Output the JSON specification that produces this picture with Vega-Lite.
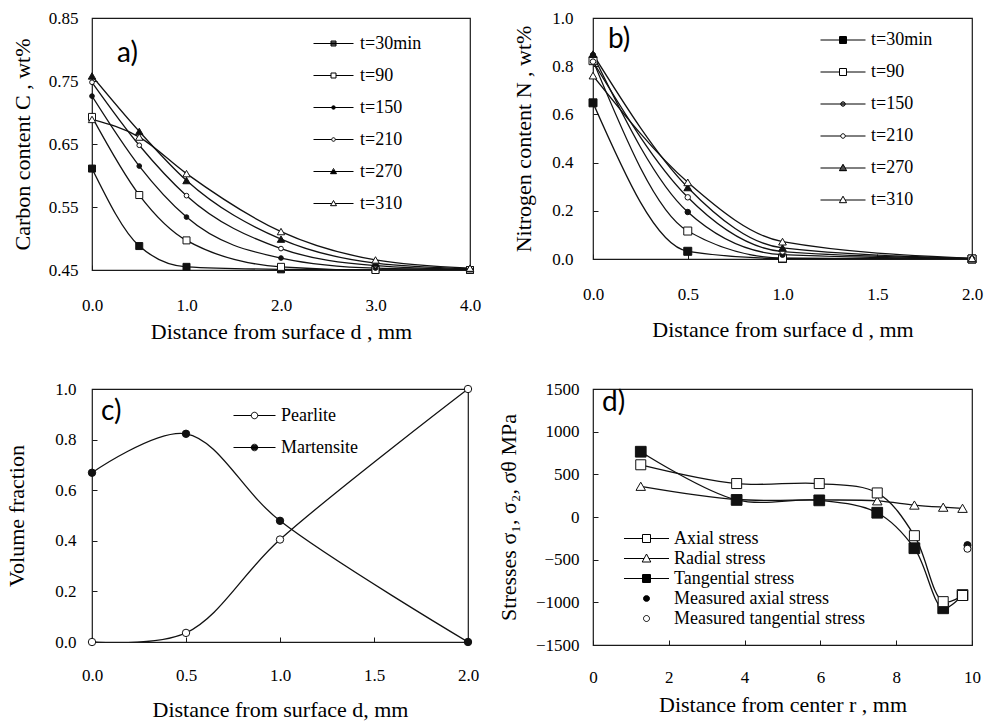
{
  "$schema": "https://vega.github.io/schema/vega-lite/v6.json",
  "background": "white",
  "padding": {"left": 5, "top": 8, "right": 0, "bottom": 0},
  "columns": 2,
  "spacing": {"row": 36, "column": 14},
  "resolve": {"scale": {"shape": "independent"}, "legend": {"shape": "independent"}},
  "config": {
    "font": "Times New Roman, Liberation Serif, serif",
    "view": {"stroke": "#1a1a1a", "strokeWidth": 1.2},
    "axis": {"grid": false, "domain": false, "labelFont": "Times New Roman, Liberation Serif, serif", "labelFontSize": 17, "labelColor": "black", "titleFont": "Times New Roman, Liberation Serif, serif", "titleFontSize": 22, "titleFontWeight": "normal", "titleColor": "black", "tickColor": "#1a1a1a", "tickSize": -5, "labelFlush": false, "labelOverlap": false},
    "legend": {"labelFont": "Times New Roman, Liberation Serif, serif", "labelFontSize": 18, "labelColor": "black", "labelLimit": 400, "padding": 0, "offset": 0, "orient": "none", "symbolStrokeWidth": 1, "symbolStrokeColor": "black", "symbolOpacity": 1},
    "title": {"font": "Lato", "fontSize": 28, "fontWeight": "normal", "color": "black", "anchor": "start", "frame": "group", "offset": 0, "baseline": "alphabetic"}
  },
  "datasets": {
    "carbon": [
      {"d": 0, "C": 0.611, "t": "t=30min"}, {"d": 0.5, "C": 0.488, "t": "t=30min"}, {"d": 1, "C": 0.455, "t": "t=30min"}, {"d": 2, "C": 0.451, "t": "t=30min"}, {"d": 3, "C": 0.45, "t": "t=30min"}, {"d": 4, "C": 0.45, "t": "t=30min"},
      {"d": 0, "C": 0.693, "t": "t=90"}, {"d": 0.5, "C": 0.569, "t": "t=90"}, {"d": 1, "C": 0.497, "t": "t=90"}, {"d": 2, "C": 0.455, "t": "t=90"}, {"d": 3, "C": 0.45, "t": "t=90"}, {"d": 4, "C": 0.45, "t": "t=90"},
      {"d": 0, "C": 0.726, "t": "t=150"}, {"d": 0.5, "C": 0.615, "t": "t=150"}, {"d": 1, "C": 0.534, "t": "t=150"}, {"d": 2, "C": 0.469, "t": "t=150"}, {"d": 3, "C": 0.453, "t": "t=150"}, {"d": 4, "C": 0.451, "t": "t=150"},
      {"d": 0, "C": 0.748, "t": "t=210"}, {"d": 0.5, "C": 0.648, "t": "t=210"}, {"d": 1, "C": 0.568, "t": "t=210"}, {"d": 2, "C": 0.484, "t": "t=210"}, {"d": 3, "C": 0.457, "t": "t=210"}, {"d": 4, "C": 0.451, "t": "t=210"},
      {"d": 0, "C": 0.758, "t": "t=270"}, {"d": 0.5, "C": 0.670, "t": "t=270"}, {"d": 1, "C": 0.592, "t": "t=270"}, {"d": 2, "C": 0.499, "t": "t=270"}, {"d": 3, "C": 0.461, "t": "t=270"}, {"d": 4, "C": 0.452, "t": "t=270"},
      {"d": 0, "C": 0.689, "t": "t=310"}, {"d": 0.5, "C": 0.661, "t": "t=310"}, {"d": 1, "C": 0.603, "t": "t=310"}, {"d": 2, "C": 0.511, "t": "t=310"}, {"d": 3, "C": 0.466, "t": "t=310"}, {"d": 4, "C": 0.453, "t": "t=310"}
    ],
    "nitrogen": [
      {"d": 0, "N": 0.648, "t": "t=30min"}, {"d": 0.5, "N": 0.032, "t": "t=30min"}, {"d": 1, "N": 0.002, "t": "t=30min"}, {"d": 2, "N": 0.0, "t": "t=30min"},
      {"d": 0, "N": 0.823, "t": "t=90"}, {"d": 0.5, "N": 0.116, "t": "t=90"}, {"d": 1, "N": 0.004, "t": "t=90"}, {"d": 2, "N": 0.0, "t": "t=90"},
      {"d": 0, "N": 0.846, "t": "t=150"}, {"d": 0.5, "N": 0.195, "t": "t=150"}, {"d": 1, "N": 0.018, "t": "t=150"}, {"d": 2, "N": 0.0, "t": "t=150"},
      {"d": 0, "N": 0.819, "t": "t=210"}, {"d": 0.5, "N": 0.256, "t": "t=210"}, {"d": 1, "N": 0.031, "t": "t=210"}, {"d": 2, "N": 0.001, "t": "t=210"},
      {"d": 0, "N": 0.850, "t": "t=270"}, {"d": 0.5, "N": 0.297, "t": "t=270"}, {"d": 1, "N": 0.046, "t": "t=270"}, {"d": 2, "N": 0.002, "t": "t=270"},
      {"d": 0, "N": 0.761, "t": "t=310"}, {"d": 0.5, "N": 0.318, "t": "t=310"}, {"d": 1, "N": 0.072, "t": "t=310"}, {"d": 2, "N": 0.003, "t": "t=310"}
    ],
    "phase": [
      {"d": 0, "f": 0.0, "phase": "Pearlite"}, {"d": 0.5, "f": 0.036, "phase": "Pearlite"}, {"d": 1, "f": 0.405, "phase": "Pearlite"}, {"d": 2, "f": 1.0, "phase": "Pearlite"},
      {"d": 0, "f": 0.669, "phase": "Martensite"}, {"d": 0.5, "f": 0.823, "phase": "Martensite"}, {"d": 1, "f": 0.479, "phase": "Martensite"}, {"d": 2, "f": 0.0, "phase": "Martensite"}
    ],
    "stress": [
      {"r": 1.26, "s": 612, "type": "Axial stress"}, {"r": 3.79, "s": 392, "type": "Axial stress"}, {"r": 5.97, "s": 392, "type": "Axial stress"}, {"r": 7.5, "s": 282, "type": "Axial stress"}, {"r": 8.48, "s": -219, "type": "Axial stress"}, {"r": 9.24, "s": -992, "type": "Axial stress"}, {"r": 9.75, "s": -920, "type": "Axial stress"},
      {"r": 1.26, "s": 360, "type": "Radial stress"}, {"r": 3.79, "s": 205, "type": "Radial stress"}, {"r": 5.97, "s": 200, "type": "Radial stress"}, {"r": 7.5, "s": 190, "type": "Radial stress"}, {"r": 8.48, "s": 140, "type": "Radial stress"}, {"r": 9.24, "s": 115, "type": "Radial stress"}, {"r": 9.75, "s": 102, "type": "Radial stress"},
      {"r": 1.26, "s": 765, "type": "Tangential stress"}, {"r": 3.79, "s": 200, "type": "Tangential stress"}, {"r": 5.97, "s": 195, "type": "Tangential stress"}, {"r": 7.5, "s": 50, "type": "Tangential stress"}, {"r": 8.48, "s": -366, "type": "Tangential stress"}, {"r": 9.24, "s": -1070, "type": "Tangential stress"}, {"r": 9.75, "s": -915, "type": "Tangential stress"},
      {"r": 9.88, "s": -330, "type": "Measured axial stress"},
      {"r": 9.88, "s": -372, "type": "Measured tangential stress"}
    ]
  },
  "concat": [
    {
      "width": 378, "height": 252,
      "title": {"text": "a)", "dx": 25, "dy": 63},
      "data": {"name": "carbon"},
      "encoding": {
        "x": {"field": "d", "type": "quantitative", "scale": {"domain": [0, 4], "nice": false, "zero": false}, "axis": {"values": [0, 1, 2, 3, 4], "format": ".1f", "title": "Distance from surface d , mm", "labelPadding": 32, "titlePadding": 8}},
        "y": {"field": "C", "type": "quantitative", "scale": {"domain": [0.45, 0.85], "nice": false, "zero": false}, "axis": {"values": [0.45, 0.55, 0.65, 0.75, 0.85], "format": ".2f", "title": "Carbon content C , wt%", "labelPadding": 19, "titlePadding": 14}}
      },
      "layer": [
        {"mark": {"type": "line", "interpolate": "monotone", "color": "#111", "strokeWidth": 1.3, "clip": true}, "encoding": {"detail": {"field": "t"}}},
        {"transform": [{"filter": {"field": "t", "equal": "t=30min"}}], "mark": {"type": "point", "shape": "square", "size": 49, "filled": true, "fill": "#111", "stroke": "#111", "strokeWidth": 1, "opacity": 1}},
        {"transform": [{"filter": {"field": "t", "equal": "t=90"}}], "mark": {"type": "point", "shape": "square", "size": 49, "filled": true, "fill": "white", "stroke": "#111", "strokeWidth": 1, "opacity": 1}},
        {"transform": [{"filter": {"field": "t", "equal": "t=150"}}], "mark": {"type": "point", "shape": "circle", "size": 22, "filled": true, "fill": "#111", "stroke": "#111", "strokeWidth": 1, "opacity": 1}},
        {"transform": [{"filter": {"field": "t", "equal": "t=210"}}], "mark": {"type": "point", "shape": "circle", "size": 22, "filled": true, "fill": "white", "stroke": "#111", "strokeWidth": 1, "opacity": 1}},
        {"transform": [{"filter": {"field": "t", "equal": "t=270"}}], "mark": {"type": "point", "shape": "triangle-up", "size": 55, "filled": true, "fill": "#111", "stroke": "#111", "strokeWidth": 1, "opacity": 1}},
        {"transform": [{"filter": {"field": "t", "equal": "t=310"}}], "mark": {"type": "point", "shape": "triangle-up", "size": 55, "filled": true, "fill": "white", "stroke": "#111", "strokeWidth": 1, "opacity": 1}},
        {"transform": [{"filter": "datum.d > 100"}],
         "mark": {"type": "point", "filled": false, "color": "black", "strokeWidth": 1, "opacity": 1},
         "encoding": {
           "shape": {"field": "t", "type": "nominal",
             "scale": {"domain": ["t=30min", "t=90", "t=150", "t=210", "t=270", "t=310"],
               "range": [
                 "M-1,0H1M-0.125,-0.125H0.125V0.125H-0.125ZM-0.125,-0.075H0.125M-0.125,-0.025H0.125M-0.125,0.025H0.125M-0.125,0.075H0.125",
                 "M-1,0H-0.125M0.125,0H1M-0.125,-0.125H0.125V0.125H-0.125Z",
                 "M-1,0H1M-0.09,0A0.09,0.09 0 1,1 0.09,0A0.09,0.09 0 1,1 -0.09,0ZM-0.07,-0.05H0.07M-0.07,0.05H0.07",
                 "M-1,0H-0.09M0.09,0H1M-0.09,0A0.09,0.09 0 1,1 0.09,0A0.09,0.09 0 1,1 -0.09,0Z",
                 "M-1,0H1M0,-0.15L0.15,0.11H-0.15ZM-0.058,-0.05H0.058M-0.115,0.05H0.115M-0.14,0.09H0.14",
                 "M-1,0H-0.087M0.087,0H1M0,-0.15L0.15,0.11H-0.15Z"
               ]},
             "legend": {"title": null, "orient": "none", "legendX": 221, "legendY": 5, "symbolSize": 1600, "labelOffset": 6, "rowPadding": 2,
               "encode": {"symbols": {"update": {"stroke": {"value": "black"}, "strokeWidth": {"value": 1}, "opacity": {"value": 1}}}}}}
         }}
      ]
    },
    {
      "width": 379, "height": 241,
      "title": {"text": "b)", "dx": 15, "dy": 49},
      "data": {"name": "nitrogen"},
      "encoding": {
        "x": {"field": "d", "type": "quantitative", "scale": {"domain": [0, 2], "nice": false, "zero": false}, "axis": {"values": [0, 0.5, 1, 1.5, 2], "format": ".1f", "title": "Distance from surface d , mm", "labelPadding": 32, "titlePadding": 17}},
        "y": {"field": "N", "type": "quantitative", "scale": {"domain": [0, 1], "nice": false, "zero": false}, "axis": {"values": [0, 0.2, 0.4, 0.6, 0.8, 1.0], "format": ".1f", "title": "Nitrogen content N , wt%", "labelPadding": 25, "titlePadding": 16}}
      },
      "layer": [
        {"mark": {"type": "line", "interpolate": "monotone", "color": "#111", "strokeWidth": 1.3, "clip": true}, "encoding": {"detail": {"field": "t"}}},
        {"transform": [{"filter": {"field": "t", "equal": "t=30min"}}], "mark": {"type": "point", "shape": "square", "size": 64, "filled": true, "fill": "#111", "stroke": "#111", "strokeWidth": 1, "opacity": 1}},
        {"transform": [{"filter": {"field": "t", "equal": "t=90"}}], "mark": {"type": "point", "shape": "square", "size": 64, "filled": true, "fill": "white", "stroke": "#111", "strokeWidth": 1, "opacity": 1}},
        {"transform": [{"filter": {"field": "t", "equal": "t=150"}}], "mark": {"type": "point", "shape": "circle", "size": 30, "filled": true, "fill": "#111", "stroke": "#111", "strokeWidth": 1, "opacity": 1}},
        {"transform": [{"filter": {"field": "t", "equal": "t=210"}}], "mark": {"type": "point", "shape": "circle", "size": 30, "filled": true, "fill": "white", "stroke": "#111", "strokeWidth": 1, "opacity": 1}},
        {"transform": [{"filter": {"field": "t", "equal": "t=270"}}], "mark": {"type": "point", "shape": "triangle-up", "size": 60, "filled": true, "fill": "#111", "stroke": "#111", "strokeWidth": 1, "opacity": 1}},
        {"transform": [{"filter": {"field": "t", "equal": "t=310"}}], "mark": {"type": "point", "shape": "triangle-up", "size": 60, "filled": true, "fill": "white", "stroke": "#111", "strokeWidth": 1, "opacity": 1}},
        {"transform": [{"filter": "datum.d > 100"}],
         "mark": {"type": "point", "filled": false, "color": "black", "strokeWidth": 1, "opacity": 1},
         "encoding": {
           "shape": {"field": "t", "type": "nominal",
             "scale": {"domain": ["t=30min", "t=90", "t=150", "t=210", "t=270", "t=310"],
               "range": [
                 "M-1,0H1M-0.155,-0.155H0.155V0.155H-0.155ZM-0.155,-0.111H0.155M-0.155,-0.067H0.155M-0.155,-0.022H0.155M-0.155,0.022H0.155M-0.155,0.067H0.155M-0.155,0.111H0.155",
                 "M-1,0H-0.155M0.155,0H1M-0.155,-0.155H0.155V0.155H-0.155Z",
                 "M-1,0H1M-0.1,0A0.1,0.1 0 1,1 0.1,0A0.1,0.1 0 1,1 -0.1,0ZM-0.089,-0.045H0.089M-0.089,0.045H0.089",
                 "M-1,0H-0.1M0.1,0H1M-0.1,0A0.1,0.1 0 1,1 0.1,0A0.1,0.1 0 1,1 -0.1,0Z",
                 "M-1,0H1M0,-0.17L0.16,0.12H-0.16ZM-0.039,-0.1H0.039M-0.066,-0.05H0.066M-0.121,0.05H0.121M-0.149,0.1H0.149",
                 "M-1,0H-0.094M0.094,0H1M0,-0.17L0.16,0.12H-0.16Z"
               ]},
             "legend": {"title": null, "orient": "none", "legendX": 227, "legendY": -1, "symbolSize": 2025, "labelOffset": 5, "rowPadding": 0,
               "encode": {"symbols": {"update": {"stroke": {"value": "black"}, "strokeWidth": {"value": 1}, "opacity": {"value": 1}}}}}}
         }}
      ]
    },
    {
      "width": 376, "height": 253,
      "title": {"text": "c)", "dx": 9, "dy": 50},
      "data": {"name": "phase"},
      "encoding": {
        "x": {"field": "d", "type": "quantitative", "scale": {"domain": [0, 2], "nice": false, "zero": false}, "axis": {"values": [0, 0.5, 1, 1.5, 2], "format": ".1f", "title": "Distance from surface d, mm", "labelPadding": 30, "titlePadding": 16}},
        "y": {"field": "f", "type": "quantitative", "scale": {"domain": [0, 1], "nice": false, "zero": false}, "axis": {"values": [0, 0.2, 0.4, 0.6, 0.8, 1.0], "format": ".1f", "title": "Volume fraction", "labelPadding": 21, "titlePadding": 26}}
      },
      "layer": [
        {"mark": {"type": "line", "interpolate": "catmull-rom", "color": "#111", "strokeWidth": 1.3, "clip": true}, "encoding": {"detail": {"field": "phase"}}},
        {"transform": [{"filter": {"field": "phase", "equal": "Pearlite"}}], "mark": {"type": "point", "shape": "circle", "size": 55, "filled": true, "fill": "white", "stroke": "#111", "strokeWidth": 1, "opacity": 1}},
        {"transform": [{"filter": {"field": "phase", "equal": "Martensite"}}], "mark": {"type": "point", "shape": "circle", "size": 55, "filled": true, "fill": "#111", "stroke": "#111", "strokeWidth": 1, "opacity": 1}},
        {"transform": [{"filter": "datum.d > 100"}],
         "mark": {"type": "point", "filled": false, "color": "black", "strokeWidth": 1, "opacity": 1},
         "encoding": {
           "shape": {"field": "phase", "type": "nominal",
             "scale": {"domain": ["Pearlite", "Martensite"],
               "range": [
                 "M-1,0H-0.155M0.155,0H1M-0.155,0A0.155,0.155 0 1,1 0.155,0A0.155,0.155 0 1,1 -0.155,0Z",
                 "M-1,0H1M-0.155,0A0.155,0.155 0 1,1 0.155,0A0.155,0.155 0 1,1 -0.155,0ZM-0.147,-0.05H0.147M-0.147,0.05H0.147M-0.118,-0.1H0.118M-0.118,0.1H0.118"
               ]},
             "legend": {"title": null, "orient": "none", "legendX": 141, "legendY": 5, "symbolSize": 1764, "labelOffset": 5, "rowPadding": 1,
               "encode": {"symbols": {"update": {"stroke": {"value": "black"}, "strokeWidth": {"value": 1}, "opacity": {"value": 1}}}}}}
         }}
      ]
    },
    {
      "width": 379, "height": 256,
      "title": {"text": "d)", "dx": 9, "dy": 41},
      "data": {"name": "stress"},
      "encoding": {
        "x": {"field": "r", "type": "quantitative", "scale": {"domain": [0, 10], "nice": false, "zero": false}, "axis": {"values": [0, 2, 4, 6, 8, 10], "format": "d", "title": "Distance from center r , mm", "labelPadding": 29, "titlePadding": 9}},
        "y": {"field": "s", "type": "quantitative", "scale": {"domain": [-1500, 1500], "nice": false, "zero": false}, "axis": {"values": [-1500, -1000, -500, 0, 500, 1000, 1500], "format": "d", "title": "Stresses σ₁, σ₂, σθ MPa", "labelPadding": 19, "titlePadding": 15}}
      },
      "layer": [
        {"transform": [{"filter": {"field": "type", "oneOf": ["Axial stress", "Radial stress", "Tangential stress"]}}],
         "mark": {"type": "line", "interpolate": "catmull-rom", "color": "#111", "strokeWidth": 1.3, "clip": true}, "encoding": {"detail": {"field": "type"}}},
        {"transform": [{"filter": {"field": "type", "equal": "Radial stress"}}], "mark": {"type": "point", "shape": "triangle-up", "size": 90, "filled": true, "fill": "white", "stroke": "#111", "strokeWidth": 1, "opacity": 1}},
        {"transform": [{"filter": {"field": "type", "equal": "Tangential stress"}}], "mark": {"type": "point", "shape": "square", "size": 115, "filled": true, "fill": "#111", "stroke": "#111", "strokeWidth": 1, "opacity": 1}},
        {"transform": [{"filter": {"field": "type", "equal": "Axial stress"}}], "mark": {"type": "point", "shape": "square", "size": 100, "filled": true, "fill": "white", "stroke": "#111", "strokeWidth": 1, "opacity": 1}},
        {"transform": [{"filter": {"field": "type", "equal": "Measured axial stress"}}], "mark": {"type": "point", "shape": "circle", "size": 50, "filled": true, "fill": "#111", "stroke": "#111", "strokeWidth": 1, "opacity": 1}},
        {"transform": [{"filter": {"field": "type", "equal": "Measured tangential stress"}}], "mark": {"type": "point", "shape": "circle", "size": 50, "filled": true, "fill": "white", "stroke": "#111", "strokeWidth": 1, "opacity": 1}},
        {"transform": [{"filter": "datum.r > 100"}],
         "mark": {"type": "point", "filled": false, "color": "black", "strokeWidth": 1, "opacity": 1},
         "encoding": {
           "shape": {"field": "type", "type": "nominal",
             "scale": {"domain": ["Axial stress", "Radial stress", "Tangential stress", "Measured axial stress", "Measured tangential stress"],
               "range": [
                 "M-2.25,0H-0.4M0.4,0H2.25M-0.4,-0.4H0.4V0.4H-0.4Z",
                 "M-2.25,0H-0.242M0.242,0H2.25M0,-0.45L0.43,0.35H-0.43Z",
                 "M-2.25,0H2.25M-0.4,-0.4H0.4V0.4H-0.4ZM-0.4,-0.3H0.4M-0.4,-0.2H0.4M-0.4,-0.1H0.4M-0.4,0.1H0.4M-0.4,0.2H0.4M-0.4,0.3H0.4",
                 "M-0.3,0A0.3,0.3 0 1,1 0.3,0A0.3,0.3 0 1,1 -0.3,0ZM-0.3,0H0.3M-0.283,-0.1H0.283M-0.283,0.1H0.283M-0.224,-0.2H0.224M-0.224,0.2H0.224",
                 "M-0.3,0A0.3,0.3 0 1,1 0.3,0A0.3,0.3 0 1,1 -0.3,0Z"
               ]},
             "legend": {"title": null, "orient": "none", "legendX": 43, "legendY": 139, "symbolSize": 400, "labelOffset": 17, "rowPadding": 0,
               "encode": {"symbols": {"update": {"stroke": {"value": "black"}, "strokeWidth": {"value": 1}, "opacity": {"value": 1}}}}}}
         }}
      ]
    }
  ]
}
